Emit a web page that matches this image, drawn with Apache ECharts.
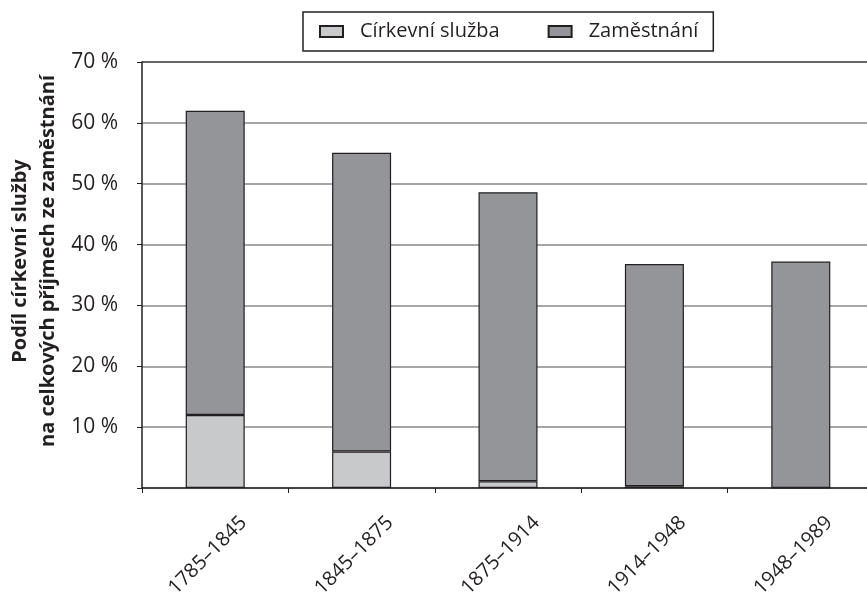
<!DOCTYPE html>
<html>
<head>
<meta charset="utf-8">
<script src="https://cdn.jsdelivr.net/npm/echarts@6/dist/echarts.min.js"></script>
<style>
  html, body { margin: 0; padding: 0; background: #fff; }
  #chart { width: 867px; height: 592px; }
</style>
</head>
<body>
<div id="chart"></div>
<script>
// období
const periods = ['1785–1845', '1845–1875', '1875–1914', '1914–1948', '1948–1989']
// podíl církevní služby (%)
const cirkevniSluzba = [12.0, 6.0, 1.1, 0.3, 0]
// zbytek do celkového podílu (%)
const zamestnani = [50.0, 49.1, 47.5, 36.5, 37.2]
const yTicks = [0, 10, 20, 30, 40, 50, 60, 70]

const font = "'Open Sans', 'Noto Sans', sans-serif"
const myChart = echarts.init(document.getElementById('chart'), null, { renderer: 'canvas' })

const option = {
  backgroundColor: '#fff',
  animation: false,
  textStyle: { fontFamily: font },
  legend: {
    top: 12,
    left: 303,
    padding: [8, 15, 8, 16],
    itemGap: 48,
    itemWidth: 23,
    itemHeight: 11,
    icon: 'rect',
    borderColor: '#231f20',
    borderWidth: 1.5,
    textStyle: { fontFamily: font, fontSize: 20, color: '#231f20', padding: [0, 0, 0, 12], lineHeight: 23 },
    data: ['Církevní služba', 'Zaměstnání']
  },
  graphic: [{
    type: 'text',
    x: 34,
    y: 261,
    rotation: Math.PI / 2,
    style: {
      text: 'Podíl církevní služby\nna celkových příjmech ze zaměstnání',
      font: 'bold 20px ' + font,
      fill: '#231f20',
      align: 'center',
      verticalAlign: 'middle',
      lineHeight: 28
    }
  }],
  grid: { left: 142, top: 62, width: 732, height: 426, outerBoundsMode: 'none' },
  xAxis: {
    type: 'category',
    data: periods,
    axisLine: { lineStyle: { color: '#231f20', width: 1.5 } },
    axisTick: { show: true, length: 5, inside: false, lineStyle: { color: '#231f20' } },
    axisLabel: {
      rotate: 45,
      align: 'center',
      verticalAlign: 'middle',
      margin: 60,
      padding: [0, 21, 17, 0],
      fontSize: 20,
      color: '#231f20',
      fontFamily: font
    }
  },
  yAxis: {
    type: 'value',
    min: yTicks[0],
    max: yTicks[yTicks.length - 1],
    interval: 10,
    axisLine: { show: true, lineStyle: { color: '#231f20', width: 1.5 } },
    axisTick: { show: true, length: 5, lineStyle: { color: '#231f20' } },
    axisLabel: {
      margin: 24,
      fontSize: 21,
      color: '#231f20',
      fontFamily: font,
      formatter: v => (v === 0 ? '' : v + ' %')
    },
    splitLine: {
      show: true,
      lineStyle: { color: ['#888', '#888', '#888', '#888', '#888', '#888', '#888', '#333'], width: 1.5 }
    }
  },
  series: [
    {
      name: 'Církevní služba',
      type: 'bar',
      stack: 'total',
      barWidth: 59,
      data: cirkevniSluzba,
      itemStyle: { color: '#c8c9cb', borderColor: '#231f20', borderWidth: 1.2 }
    },
    {
      name: 'Zaměstnání',
      type: 'bar',
      stack: 'total',
      barWidth: 59,
      data: zamestnani,
      itemStyle: { color: '#939598', borderColor: '#231f20', borderWidth: 1.2 }
    }
  ]
}
myChart.setOption(option)
</script>
</body>
</html>
